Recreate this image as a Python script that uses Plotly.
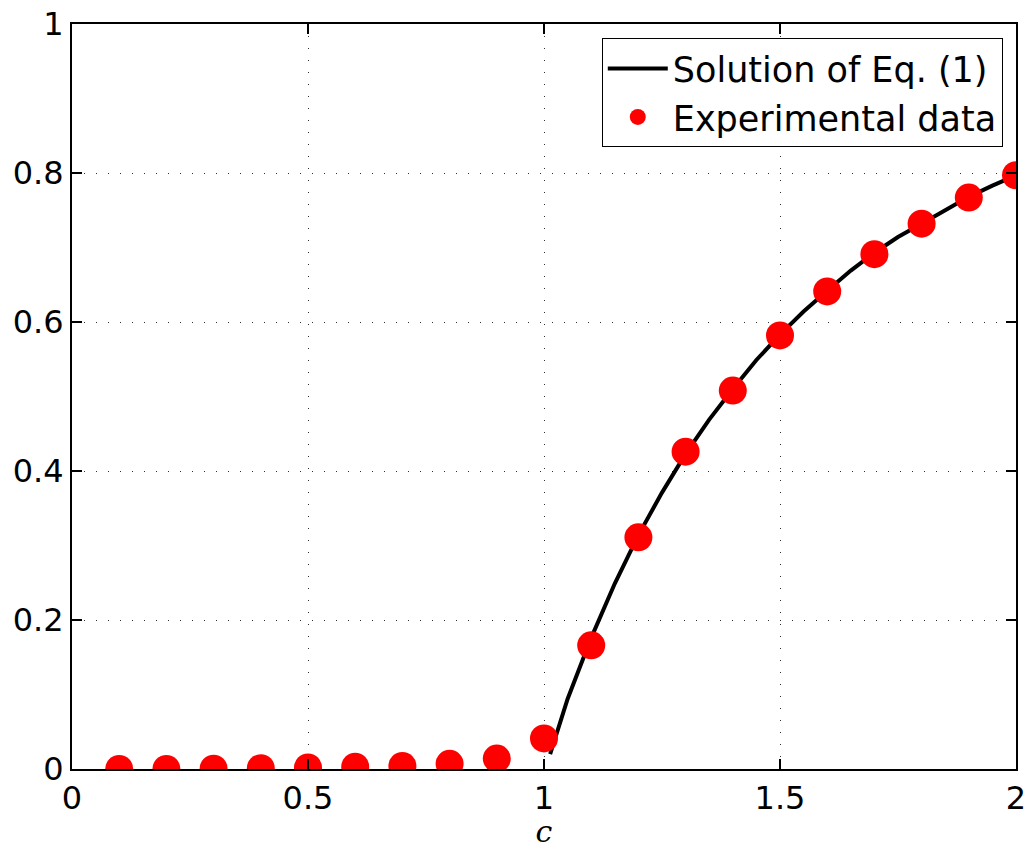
import plotly.graph_objects as go

data_c = [0.1, 0.2, 0.3, 0.4, 0.5, 0.6, 0.7, 0.8, 0.9, 1.0,
          1.1, 1.2, 1.3, 1.4, 1.5, 1.6, 1.7, 1.8, 1.9, 2.0]
data_y = [0.0, 0.0, 0.0005, 0.001, 0.002, 0.003, 0.004, 0.007, 0.014, 0.041,
          0.166, 0.311, 0.426, 0.508, 0.582, 0.641, 0.691, 0.732, 0.767, 0.797]

# Solution curve
sol_c = [1.013, 1.05, 1.1, 1.15, 1.2, 1.25, 1.3, 1.35, 1.4, 1.45, 1.5,
         1.55, 1.6, 1.65, 1.7, 1.75, 1.8, 1.85, 1.9, 1.95, 2.0]
sol_y = [0.02, 0.094, 0.176, 0.249, 0.314, 0.371, 0.423, 0.469, 0.510, 0.549, 0.583,
         0.614, 0.642, 0.669, 0.693, 0.714, 0.732, 0.750, 0.768, 0.783, 0.797]

x_ticks = [0, 0.5, 1, 1.5, 2]
x_labels = ["0", "0.5", "1", "1.5", "2"]
y_ticks = [0, 0.2, 0.4, 0.6, 0.8, 1]
y_labels = ["0", "0.2", "0.4", "0.6", "0.8", "1"]

fig = go.Figure()
fig.add_trace(go.Scatter(x=sol_c, y=sol_y, mode="lines", name="Solution of Eq. (1)",
                         line=dict(color="black", width=4)))
fig.add_trace(go.Scatter(x=data_c, y=data_y, mode="markers", name="Experimental data",
                         marker=dict(color="#ff0000", size=28, line=dict(width=0))))

axis_common = dict(
    showline=True, linecolor="black", linewidth=2, mirror="ticks",
    ticks="inside", ticklen=10, tickwidth=1.5, tickcolor="black",
    showgrid=True, gridcolor="#333333", gridwidth=1, griddash="1px,11px",
    zeroline=False, ticklabeloverflow="allow", automargin=False,
    tickfont=dict(family="DejaVu Sans, sans-serif", size=32, color="black"),
)

fig.update_xaxes(range=[0, 2], tickvals=x_ticks, ticktext=x_labels,
                 title=dict(text="c", font=dict(family="DejaVu Serif, serif", size=30,
                                                 style="italic", color="black"), standoff=0),
                 **axis_common)
fig.update_yaxes(range=[0, 1], tickvals=y_ticks, ticktext=y_labels, **axis_common)

fig.update_layout(
    width=1035, height=849,
    margin=dict(l=72, r=19, t=24, b=80, autoexpand=False),
    plot_bgcolor="white", paper_bgcolor="white",
    showlegend=True,
    legend=dict(x=0.986, y=0.981, xanchor="right", yanchor="top",
                bgcolor="white", bordercolor="black", borderwidth=1,
                font=dict(family="DejaVu Sans, sans-serif", size=35, color="black"),
                itemwidth=60, tracegroupgap=0),
)

fig.write_html("out.html", config={"displayModeBar": False},
               post_script="document.body.style.margin='0px';document.body.style.overflow='hidden';")
